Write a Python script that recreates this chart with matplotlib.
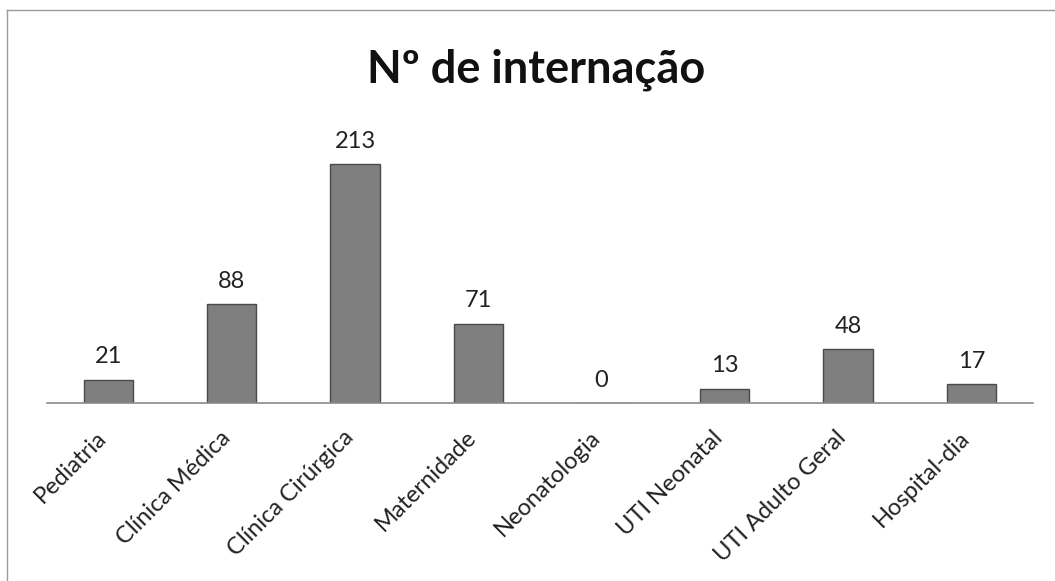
import matplotlib
matplotlib.use("Agg")
import matplotlib.pyplot as plt
from matplotlib.lines import Line2D
from matplotlib.transforms import ScaledTranslation

categories = ["Pediatria", "Clínica Médica", "Clínica Cirúrgica", "Maternidade",
              "Neonatologia", "UTI Neonatal", "UTI Adulto Geral", "Hospital-dia"]
values = [21, 88, 213, 71, 0, 13, 48, 17]
title = "Nº de internação"

plt.rcParams["font.family"] = ["Lato", "DejaVu Sans"]

fig = plt.figure(figsize=(10.55, 5.81), dpi=100)
ax = fig.add_axes([0.0445, 0.306, 0.9345, 0.483])

x = range(len(categories))
bars = ax.bar(x, values, width=0.4, color="#7f7f7f", edgecolor="#4a4a4a", linewidth=1)
ax.bar_label(bars, labels=[str(v) for v in values], padding=9, fontsize=17, color="#222222")

ax.set_xlim(-0.5, len(categories) - 0.5)
ax.set_ylim(0, 250)
ax.set_xticks(list(x))
ax.set_xticklabels(categories, rotation=45, ha="right", va="top",
                   rotation_mode="anchor", fontsize=17, color="#222222")
ax.tick_params(axis="x", length=0, pad=17)
shift = ScaledTranslation(-9 / 72, 0, fig.dpi_scale_trans)
for lab in ax.get_xticklabels():
    lab.set_transform(lab.get_transform() + shift)
ax.set_yticks([])
for side in ["top", "right", "left"]:
    ax.spines[side].set_visible(False)
ax.spines["bottom"].set_color("#8a8a8a")
ax.spines["bottom"].set_linewidth(1.2)

fig.text(0.508, 0.88, title, ha="center", va="center", fontsize=32.5, fontweight="bold", color="#111111")

# scanned chart frame (left and top edges)
fig.add_artist(Line2D([0.007, 0.007], [0.0, 0.983], transform=fig.transFigure, color="#9a9a9a", linewidth=1))
fig.add_artist(Line2D([0.007, 1.0], [0.983, 0.983], transform=fig.transFigure, color="#9a9a9a", linewidth=1))

fig.savefig("out.png", dpi=100)
